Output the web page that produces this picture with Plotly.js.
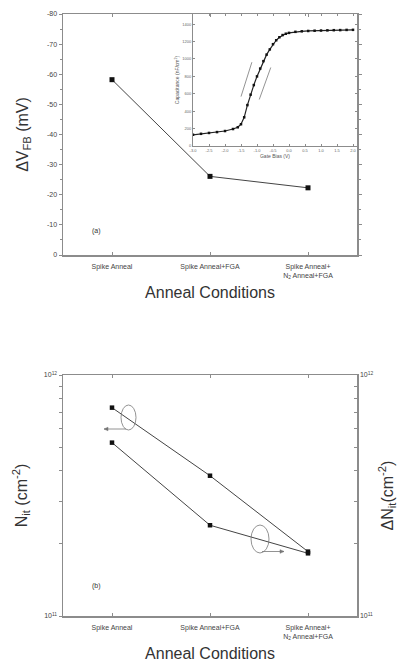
<!DOCTYPE html>
<html>
<head>
<meta charset="utf-8">
<script src="https://cdn.plot.ly/plotly-3.0.1.min.js"></script>
<style>html,body{margin:0;padding:0;background:#fff;}#chart{width:398px;height:666px;}</style>
</head>
<body>
<div id="chart"></div>
<script>
// ---- data ----
const categories = ["Spike Anneal", "Spike Anneal+FGA", "Spike Anneal+<br>N<sub>2</sub> Anneal+FGA"];
const deltaVfb = [-58.2, -26.1, -22.3];               // mV
const vfbTickVals = [0, -10, -20, -30, -40, -50, -60, -70, -80];
const vfbTickText = ["0", "-10", "-20", "-30", "-40", "-50", "-60", "-70", "-80"];
const vfbMinorVals = [-5, -15, -25, -35, -45, -55, -65, -75];

// inset C-V curve
const gateBias = [-3.0, -2.75, -2.5, -2.25, -2.0, -1.75, -1.6, -1.5, -1.4, -1.3, -1.2, -1.1, -1.0, -0.9, -0.8, -0.7, -0.6, -0.5, -0.4, -0.3, -0.2, -0.1, 0.0, 0.2, 0.4, 0.6, 0.8, 1.0, 1.2, 1.4, 1.6, 1.8, 2.0];
const capacitance = [128, 140, 150, 160, 172, 195, 215, 250, 330, 470, 590, 700, 800, 890, 975, 1050, 1110, 1170, 1215, 1250, 1275, 1290, 1300, 1312, 1318, 1322, 1325, 1327, 1329, 1331, 1332, 1334, 1335];
const shiftLeftV = [-1.5, -1.16];
const shiftLeftC = [568, 963];
const shiftRightV = [-0.93, -0.57];
const shiftRightC = [534, 902];
const gateTicks = [-3.0, -2.5, -2.0, -1.5, -1.0, -0.5, 0.0, 0.5, 1.0, 1.5, 2.0];
const gateTickText = ["-3.0", "-2.5", "-2.0", "-1.5", "-1.0", "-0.5", "0.0", "0.5", "1.0", "1.5", "2.0"];
const capTicks = [0, 200, 400, 600, 800, 1000, 1200, 1400];

// panel (b)
const nit = [7.32e11, 3.82e11, 1.85e11];      // left axis
const deltaNit = [5.24e11, 2.38e11, 1.82e11]; // right axis
const logTickVals = [1e11, 1e12];
const logTickText = ["10<sup>11</sup>", "10<sup>12</sup>"];
const logMinorVals = [2e11, 3e11, 4e11, 5e11, 6e11, 7e11, 8e11, 9e11];

// ---- styling ----
const FONT = "Liberation Sans, Arial, sans-serif";
const axisCol = "#8c8c8c";
const tickFont = {family: FONT, size: 7, color: "#444"};
const insetFont = {family: FONT, size: 4, color: "#666"};
const lineCol = "#444";
const M = {l: 63, r: 41, t: 14, b: 50};
const PW = 398 - M.l - M.r, PH = 666 - M.t - M.b;
const px = v => (v - M.l) / PW;
const py = v => (666 - M.b - v) / PH;

const traces = [
  {x: categories, y: deltaVfb, xaxis: "x", yaxis: "y", type: "scatter", mode: "lines+markers",
   line: {color: lineCol, width: 1}, marker: {symbol: "square", size: 5, color: "#111"}},
  {x: gateBias, y: capacitance, xaxis: "x2", yaxis: "y2", type: "scatter", mode: "lines+markers",
   line: {color: "#222", width: 1.2}, marker: {symbol: "square", size: 2.5, color: "#111"}},
  {x: shiftLeftV, y: shiftLeftC, xaxis: "x2", yaxis: "y2", type: "scatter", mode: "lines",
   line: {color: "#777", width: 0.8}},
  {x: shiftRightV, y: shiftRightC, xaxis: "x2", yaxis: "y2", type: "scatter", mode: "lines",
   line: {color: "#777", width: 0.8}},
  {x: categories, y: nit, xaxis: "x3", yaxis: "y3", type: "scatter", mode: "lines+markers",
   line: {color: lineCol, width: 1}, marker: {symbol: "square", size: 4.5, color: "#111"}},
  {x: categories, y: deltaNit, xaxis: "x3", yaxis: "y4", type: "scatter", mode: "lines+markers",
   line: {color: lineCol, width: 1}, marker: {symbol: "square", size: 4.5, color: "#111"}}
];

const catAxis = (domain, anchor) => ({
  domain: domain, anchor: anchor, type: "category", range: [-0.5, 2.5],
  showline: true, linecolor: axisCol, linewidth: 1.5, mirror: "ticks",
  ticks: "inside", ticklen: 3, tickcolor: axisCol, tickfont: tickFont, ticklabelstandoff: 4,
  showgrid: false, zeroline: false, automargin: false,
  title: {text: "Anneal Conditions", font: {family: FONT, size: 16, color: "#333"}, standoff: 7}
});

const gray = {color: "#777", width: 0.8};
function arrow(x0, x1, y) {
  const d = x1 > x0 ? -4 : 4;
  return [
    {type: "line", xref: "paper", yref: "paper", x0: px(x0), x1: px(x1), y0: py(y), y1: py(y), line: gray},
    {type: "path", xref: "paper", yref: "paper", fillcolor: "#777", line: {color: "#777", width: 0.5},
     path: `M ${px(x1)} ${py(y)} L ${px(x1 + d)} ${py(y - 1.8)} L ${px(x1 + d)} ${py(y + 1.8)} Z`}
  ];
}

const layout = {
  width: 398, height: 666,
  margin: M,
  paper_bgcolor: "#fff", plot_bgcolor: "rgba(0,0,0,0)",
  showlegend: false,
  font: {family: FONT, color: "#333"},
  xaxis: catAxis([0, 1], "y"),
  yaxis: {
    domain: [py(255), 1], anchor: "x", range: [0, -80],
    tickvals: vfbTickVals, ticktext: vfbTickText,
    showline: true, linecolor: axisCol, linewidth: 1.5, mirror: "ticks",
    ticks: "outside", ticklen: 3, tickcolor: axisCol, tickfont: tickFont,
    minor: {tickvals: vfbMinorVals, ticks: "outside", ticklen: 2, tickcolor: axisCol},
    showgrid: false, zeroline: false, automargin: false,
    title: {text: "ΔV<sub>FB</sub> (mV)", font: {family: FONT, size: 16, color: "#333"}, standoff: 14}
  },
  xaxis2: {
    domain: [px(193), 1], anchor: "y2", range: [-3.0, 2.125],
    tickvals: gateTicks, ticktext: gateTickText,
    showline: true, linecolor: axisCol, linewidth: 1, mirror: "ticks",
    ticks: "inside", ticklen: 2, tickcolor: axisCol, tickfont: insetFont,
    showgrid: false, zeroline: false, automargin: false,
    title: {text: "Gate Bias (V)", font: {family: FONT, size: 5, color: "#555"}, standoff: 2}
  },
  yaxis2: {
    domain: [py(146), 1], anchor: "x2", range: [0, 1517],
    tickvals: capTicks,
    showline: true, linecolor: axisCol, linewidth: 1, mirror: "ticks",
    ticks: "inside", ticklen: 2, tickcolor: axisCol, tickfont: insetFont,
    showgrid: false, zeroline: false, automargin: false,
    title: {text: "Capacitance (nF/cm<sup>2</sup>)", font: {family: FONT, size: 5, color: "#555"}, standoff: 2}
  },
  xaxis3: catAxis([0, 1], "y3"),
  yaxis3: {
    domain: [0, py(375)], anchor: "x3", type: "log", range: [11, 12],
    tickvals: logTickVals, ticktext: logTickText,
    minor: {tickvals: logMinorVals, ticks: "outside", ticklen: 3, tickcolor: axisCol},
    showline: true, linecolor: axisCol, linewidth: 1.5,
    ticks: "outside", ticklen: 3, tickcolor: axisCol, tickfont: tickFont,
    showgrid: false, zeroline: false, automargin: false,
    title: {text: "N<sub>it</sub> (cm<sup>-2</sup>)", font: {family: FONT, size: 16, color: "#333"}, standoff: 12}
  },
  yaxis4: {
    overlaying: "y3", side: "right", anchor: "x3", type: "log", range: [11, 12],
    tickvals: logTickVals, ticktext: logTickText,
    minor: {tickvals: logMinorVals, ticks: "inside", ticklen: 3, tickcolor: axisCol},
    showline: true, linecolor: axisCol, linewidth: 1.5,
    ticks: "inside", ticklen: 3, tickcolor: axisCol, tickfont: tickFont,
    showgrid: false, zeroline: false, automargin: false,
    title: {text: "ΔN<sub>it</sub>(cm<sup>-2</sup>)", font: {family: FONT, size: 16, color: "#333"}, standoff: 10}
  },
  shapes: [
    {type: "circle", xref: "paper", yref: "paper",
     x0: px(121), x1: px(136), y0: py(430), y1: py(405), line: gray},
    {type: "circle", xref: "paper", yref: "paper",
     x0: px(251), x1: px(269), y0: py(553), y1: py(525), line: gray},
    ...arrow(126, 104, 429),
    ...arrow(262, 284, 551.5)
  ],
  annotations: [
    {text: "(a)", xref: "paper", yref: "paper", x: px(90), y: py(231),
     showarrow: false, font: {family: FONT, size: 7, color: "#333"}},
    {text: "(b)", xref: "paper", yref: "paper", x: px(90), y: py(592),
     showarrow: false, font: {family: FONT, size: 7, color: "#333"}}
  ]
};

Plotly.newPlot("chart", traces, layout, {displayModeBar: false, staticPlot: true});
</script>
</body>
</html>
